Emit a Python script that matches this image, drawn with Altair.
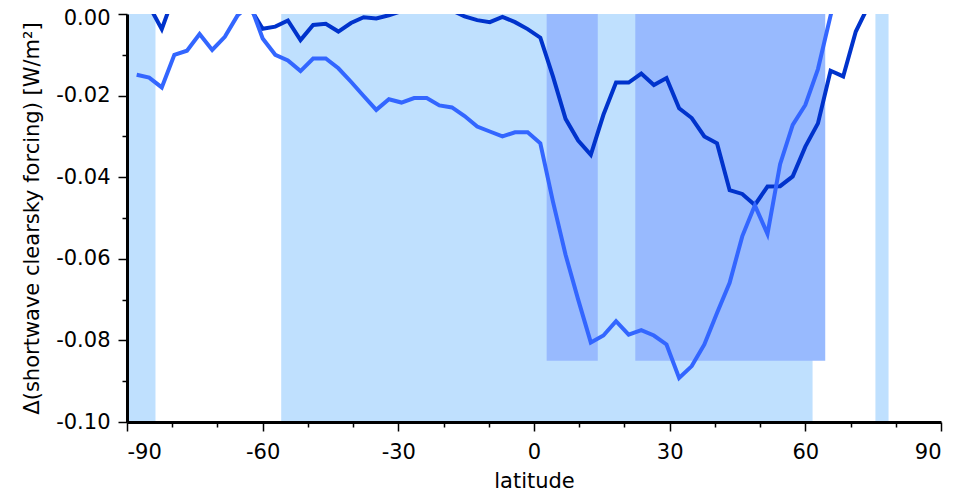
import altair as alt
import pandas as pd

# Gaussian latitudes (south -> north)
lat_south = [-87.86, -85.10, -82.31, -79.53, -76.74, -73.95, -71.16, -68.37,
             -65.58, -62.79, -60.00, -57.21, -54.42, -51.63, -48.84, -46.05,
             -43.26, -40.47, -37.67, -34.88, -32.09, -29.30, -26.51, -23.72,
             -20.93, -18.14, -15.35, -12.56, -9.77, -6.98, -4.19, -1.40]
lat = lat_south + [-v for v in reversed(lat_south)]

# dark series
sw_a = [0.004, 0.002, -0.0037, 0.0048, 0.008, 0.010, 0.010, 0.008,
        0.005, 0.0015, -0.0036, -0.0031, -0.0016, -0.0064, -0.0027, -0.0024,
        -0.0043, -0.0022, -0.0008, -0.0011, -0.0003, 0.0007, 0.0015, 0.0020,
        0.0015, 0.0009, -0.0006, -0.0015, -0.0020, -0.0007, -0.0020, -0.0037,
        -0.0058, -0.0153, -0.0257, -0.0310, -0.0345, -0.0247, -0.0168, -0.0168,
        -0.0146, -0.0174, -0.0157, -0.0231, -0.0255, -0.0300, -0.0317, -0.0432,
        -0.0441, -0.0468, -0.0423, -0.0422, -0.0398, -0.0325, -0.0268, -0.0139,
        -0.0153, -0.0043, 0.002, 0.006, 0.010, 0.012, 0.012, 0.012]

# medium series
sw_b = [-0.0149, -0.0156, -0.0180, -0.0100, -0.0090, -0.0049, -0.0088, -0.0056,
        -0.0004, 0.0024, -0.0060, -0.0100, -0.0114, -0.0140, -0.0109, -0.0109,
        -0.0133, -0.0166, -0.0201, -0.0235, -0.0209, -0.0217, -0.0206, -0.0206,
        -0.0224, -0.0229, -0.0250, -0.0276, -0.0288, -0.0300, -0.0290, -0.0290,
        -0.0317, -0.0460, -0.0590, -0.0700, -0.0805, -0.0788, -0.0753, -0.0786,
        -0.0775, -0.0788, -0.0810, -0.0892, -0.0863, -0.0810, -0.0733, -0.0659,
        -0.0545, -0.0469, -0.0539, -0.0368, -0.0272, -0.0223, -0.0135, -0.0004,
        0.012, 0.020, 0.025, 0.028, 0.030, 0.030, 0.030, 0.030]

# shaded latitude bands
light_start = [-90.0, -55.9, 75.5]
light_end = [-83.7, 61.6, 78.4]
dark_start = [2.8, 22.4]
dark_end = [14.1, 64.4]
dark_bottom = -0.085
y_min, y_max = -0.10, 0.00

x_ticks = list(range(-90, 91, 10))
y_ticks = [round(-0.10 + i * 0.01, 2) for i in range(11)]

series_names = ["a", "b"]
series_colors = ["#0033cc", "#3366ff"]

lines_df = pd.DataFrame({
    "lat": lat * 2,
    "value": sw_a + sw_b,
    "series": ["a"] * len(lat) + ["b"] * len(lat),
})
light_df = pd.DataFrame({"x": light_start, "x2": light_end,
                         "y": [y_min] * len(light_start), "y2": [y_max] * len(light_start)})
dark_df = pd.DataFrame({"x": dark_start, "x2": dark_end,
                        "y": [dark_bottom] * len(dark_start), "y2": [y_max] * len(dark_start)})

x_scale = alt.Scale(domain=[-90, 90], nice=False, zero=False)
y_scale = alt.Scale(domain=[y_min, y_max], nice=False, zero=False)

x_axis = alt.Axis(
    values=x_ticks,
    labelExpr="datum.value % 30 === 0 ? toString(datum.value) : ''",
    tickSize={"condition": {"test": "datum.value % 30 === 0", "value": 9}, "value": 5},
    title="latitude",
    labelPadding=10,
    titlePadding=8,
    zindex=1,
)
y_axis = alt.Axis(
    values=y_ticks,
    labelExpr="abs(round(datum.value * 100)) % 2 === 0 ? replace(format(datum.value, '.2f'), '\u2212', '-') : ''",
    tickSize={"condition": {"test": "abs(round(datum.value * 100)) % 2 === 0", "value": 9}, "value": 5},
    labelOffset={"condition": {"test": "datum.value > -0.001", "value": 4}, "value": 0},
    title="\u0394(shortwave clearsky forcing) [W/m\u00b2]",
    labelPadding=8,
    titlePadding=13,
    zindex=1,
)

light = alt.Chart(light_df).mark_rect(color="#bfe0fe").encode(
    x=alt.X("x:Q", scale=x_scale, axis=x_axis),
    x2="x2:Q",
    y=alt.Y("y:Q", scale=y_scale, axis=y_axis),
    y2="y2:Q",
)
dark = alt.Chart(dark_df).mark_rect(color="#98bafe").encode(
    x=alt.X("x:Q", scale=x_scale, axis=x_axis),
    x2="x2:Q",
    y=alt.Y("y:Q", scale=y_scale, axis=y_axis),
    y2="y2:Q",
)
lines = alt.Chart(lines_df).mark_line(strokeWidth=4, clip=True).encode(
    x=alt.X("lat:Q", scale=x_scale, axis=x_axis),
    y=alt.Y("value:Q", scale=y_scale, axis=y_axis),
    color=alt.Color("series:N", scale=alt.Scale(domain=series_names, range=series_colors), legend=None),
)

chart = alt.layer(light, dark, lines).properties(
    width=814,
    height=408,
    padding={"left": 119, "top": 6, "right": 29, "bottom": 75},
    autosize=alt.AutoSizeParams(type="none"),
).configure_view(stroke=None).configure_axis(
    grid=False,
    domainColor="black",
    domainWidth=3,
    tickColor="black",
    tickWidth=1.5,
    labelFont="DejaVu Sans",
    labelFontSize=21,
    labelColor="black",
    titleFont="DejaVu Sans",
    titleFontSize=21,
    titleFontWeight="normal",
    titleColor="black",
)

chart.save("out.html", embed_options={"renderer": "svg", "actions": False})
